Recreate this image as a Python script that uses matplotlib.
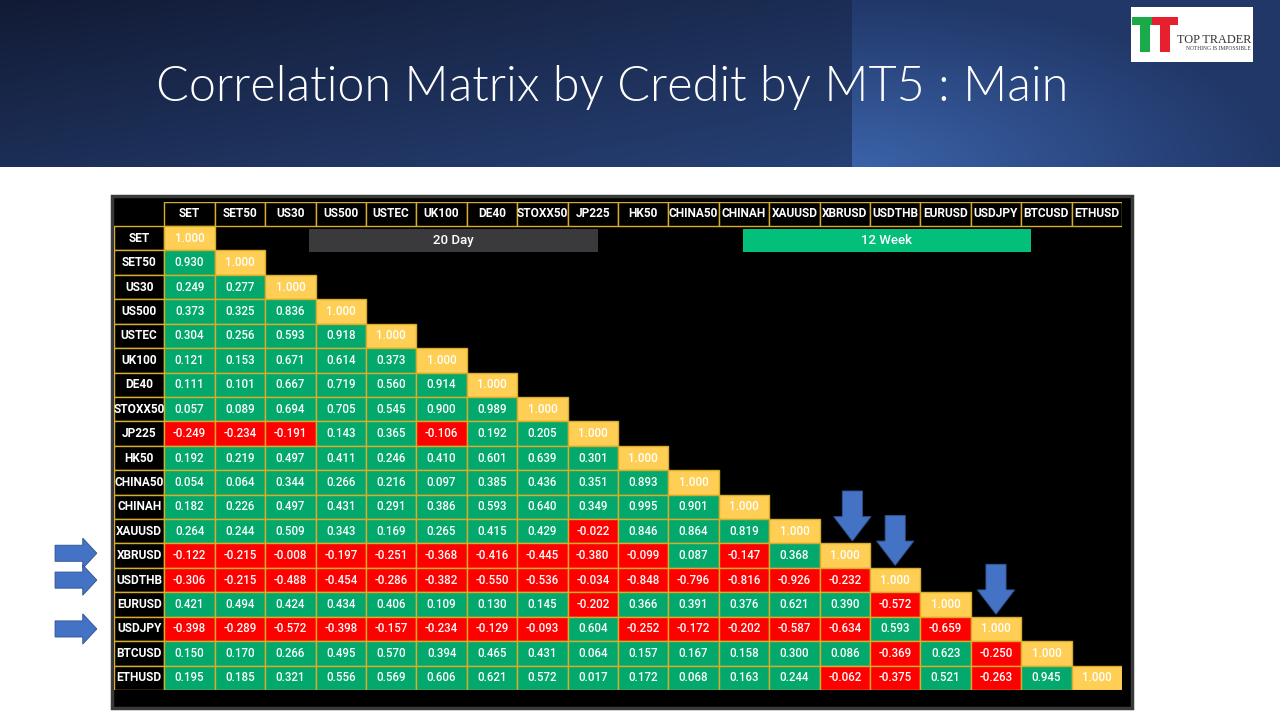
import numpy as np
import matplotlib.pyplot as plt
from matplotlib.patches import Rectangle, Polygon

# --- Data (lower triangle, diagonal = 1.000) ---
SYMBOLS = ["SET", "SET50", "US30", "US500", "USTEC", "UK100", "DE40", "STOXX50",
           "JP225", "HK50", "CHINA50", "CHINAH", "XAUUSD", "XBRUSD", "USDTHB",
           "EURUSD", "USDJPY", "BTCUSD", "ETHUSD"]

LOWER = [
    [],
    [0.930],
    [0.249, 0.277],
    [0.373, 0.325, 0.836],
    [0.304, 0.256, 0.593, 0.918],
    [0.121, 0.153, 0.671, 0.614, 0.373],
    [0.111, 0.101, 0.667, 0.719, 0.560, 0.914],
    [0.057, 0.089, 0.694, 0.705, 0.545, 0.900, 0.989],
    [-0.249, -0.234, -0.191, 0.143, 0.365, -0.106, 0.192, 0.205],
    [0.192, 0.219, 0.497, 0.411, 0.246, 0.410, 0.601, 0.639, 0.301],
    [0.054, 0.064, 0.344, 0.266, 0.216, 0.097, 0.385, 0.436, 0.351, 0.893],
    [0.182, 0.226, 0.497, 0.431, 0.291, 0.386, 0.593, 0.640, 0.349, 0.995, 0.901],
    [0.264, 0.244, 0.509, 0.343, 0.169, 0.265, 0.415, 0.429, -0.022, 0.846, 0.864, 0.819],
    [-0.122, -0.215, -0.008, -0.197, -0.251, -0.368, -0.416, -0.445, -0.380, -0.099,
     0.087, -0.147, 0.368],
    [-0.306, -0.215, -0.488, -0.454, -0.286, -0.382, -0.550, -0.536, -0.034, -0.848,
     -0.796, -0.816, -0.926, -0.232],
    [0.421, 0.494, 0.424, 0.434, 0.406, 0.109, 0.130, 0.145, -0.202, 0.366, 0.391,
     0.376, 0.621, 0.390, -0.572],
    [-0.398, -0.289, -0.572, -0.398, -0.157, -0.234, -0.129, -0.093, 0.604, -0.252,
     -0.172, -0.202, -0.587, -0.634, 0.593, -0.659],
    [0.150, 0.170, 0.266, 0.495, 0.570, 0.394, 0.465, 0.431, 0.064, 0.157, 0.167,
     0.158, 0.300, 0.086, -0.369, 0.623, -0.250],
    [0.195, 0.185, 0.321, 0.556, 0.569, 0.606, 0.621, 0.572, 0.017, 0.172, 0.068,
     0.163, 0.244, -0.062, -0.375, 0.521, -0.263, 0.945],
]

ARROW_ROWS = [13, 14, 16]   # XBRUSD, USDTHB, USDJPY

TITLE = "Correlation Matrix by Credit by MT5 : Main"

# --- Colours ---
GREEN = "#03a96c"
RED = "#ff0000"
YELLOW = "#ffcf55"
GOLD = "#d9ad2c"
ARROW_BLUE = "#4472c4"

W, H = 1280, 720
fig = plt.figure(figsize=(12.8, 7.2), dpi=100)
fig.patch.set_facecolor("white")

# background axes in pixel coordinates
bg = fig.add_axes([0, 0, 1, 1])
bg.set_xlim(0, W)
bg.set_ylim(H, 0)
bg.axis("off")

# header band gradient
band_h = 167
yy, xx = np.mgrid[0:band_h, 0:W]
dark = np.array([0x12, 0x1b, 0x35]) / 255
mid = np.array([0x27, 0x42, 0x78]) / 255
t = np.clip((xx / W) * 0.7 + (yy / band_h) * 0.5, 0, 1)[..., None]
img = dark + (mid - dark) * t
right = xx >= 852
light = np.array([0x3b, 0x63, 0xa9]) / 255
rdark = np.array([0x21, 0x37, 0x68]) / 255
d = np.sqrt(((xx - 852) / 430.0) ** 2 + ((band_h - yy) / 170.0) ** 2)
tr = np.clip(d, 0, 1)[..., None]
img_r = light + (rdark - light) * tr
img = np.where(right[..., None], img_r, img)
bg.imshow(img, extent=[0, W, band_h, 0], aspect="auto", zorder=0)

bg.text(612, 88, TITLE, color="white", fontsize=35, family="Lato",
        fontweight=300, ha="center", va="center", zorder=2)

# logo
bg.add_patch(Rectangle((1131, 7), 122, 55, facecolor="white", zorder=2))
bg.add_patch(Rectangle((1132, 17), 20, 8, facecolor="#1aaa4a", zorder=3))
bg.add_patch(Rectangle((1140, 25), 10, 27, facecolor="#1aaa4a", zorder=3))
bg.add_patch(Rectangle((1152, 17), 26, 8, facecolor="#e81f2f", zorder=3))
bg.add_patch(Rectangle((1160, 25), 10, 27, facecolor="#e81f2f", zorder=3))
bg.text(1251, 40, "TOP TRADER", fontsize=8.8, family="Liberation Serif",
        color="#333333", ha="right", va="center", zorder=3)
bg.text(1251, 49, "NOTHING IS IMPOSSIBLE", fontsize=4.0, family="Liberation Serif",
        color="#333333", ha="right", va="center", zorder=3)

# black panel
bg.add_patch(Rectangle((112, 196), 1020, 512, facecolor="black",
                       edgecolor="#3a3a3a", linewidth=2.5, zorder=1))

# --- Matrix axes: x in columns (-1 = row label), y in rows (-1 = header) ---
n = len(SYMBOLS)
x0, x1 = 114, 1122
y0, y1 = 201.6, 690
ax = fig.add_axes([x0 / W, 1 - y1 / H, (x1 - x0) / W, (y1 - y0) / H])
ax.set_xlim(-1, n)
ax.set_ylim(n, -1)
ax.axis("off")
ax.patch.set_alpha(0)

lab_kw = dict(color="white", fontsize=8.6, fontweight="bold", family="Roboto",
              ha="center", va="center")
val_kw = dict(color="white", fontsize=8.3, fontweight=500, family="Roboto",
              ha="center", va="center")

for i, s in enumerate(SYMBOLS):
    # column header
    ax.add_patch(Rectangle((i, -1), 1, 1, facecolor="black", edgecolor=GOLD, lw=1))
    ax.text(i + 0.5, -0.5, s, **lab_kw)
    # row label
    ax.add_patch(Rectangle((-1, i), 1, 1, facecolor="black", edgecolor=GOLD, lw=1))
    ax.text(-0.5, i + 0.5, s, **lab_kw)

for r, row in enumerate(LOWER):
    vals = list(row) + [1.0]
    for c, v in enumerate(vals):
        if c == r:
            fc = YELLOW
        elif v < 0:
            fc = RED
        else:
            fc = GREEN
        ax.add_patch(Rectangle((c, r), 1, 1, facecolor=fc, edgecolor=GOLD, lw=1))
        ax.text(c + 0.5, r + 0.5, f"{v:.3f}", **val_kw)

# period boxes
ax.add_patch(Rectangle((2.87, 0.12), 5.73, 0.95, facecolor="#3a3a3d", zorder=2))
ax.text(2.87 + 5.73 / 2, 0.6, "20 Day", color="white", fontsize=9.5,
        fontweight=500, family="Roboto", ha="center", va="center", zorder=3)
ax.add_patch(Rectangle((11.48, 0.12), 5.71, 0.95, facecolor="#02bf7a", zorder=2))
ax.text(11.48 + 5.71 / 2, 0.6, "12 Week", color="white", fontsize=9.5,
        fontweight=500, family="Roboto", ha="center", va="center", zorder=3)

# blue arrows
for k, r in enumerate(ARROW_ROWS):
    cx = r + 0.5 + (0.15 if k == 0 else 0.0)
    tip = r - 0.1
    down = [(cx - 0.2, tip - 2.05), (cx + 0.2, tip - 2.05), (cx + 0.2, tip - 1.0),
            (cx + 0.37, tip - 1.0), (cx, tip), (cx - 0.37, tip - 1.0),
            (cx - 0.2, tip - 1.0)]
    ax.add_patch(Polygon(down, closed=True, facecolor=ARROW_BLUE,
                         edgecolor="#2f528f", lw=0.6, clip_on=False, zorder=4))
    cy = r + 0.5 - (0.1 if k == 0 else 0.0)
    xs, xt = -2.17, -1.34
    rgt = [(xs, cy - 0.33), (xt - 0.28, cy - 0.33), (xt - 0.28, cy - 0.62),
           (xt, cy), (xt - 0.28, cy + 0.62), (xt - 0.28, cy + 0.33), (xs, cy + 0.33)]
    ax.add_patch(Polygon(rgt, closed=True, facecolor=ARROW_BLUE,
                         edgecolor="#2f528f", lw=0.6, clip_on=False, zorder=4))

fig.savefig("out.png", dpi=100)
